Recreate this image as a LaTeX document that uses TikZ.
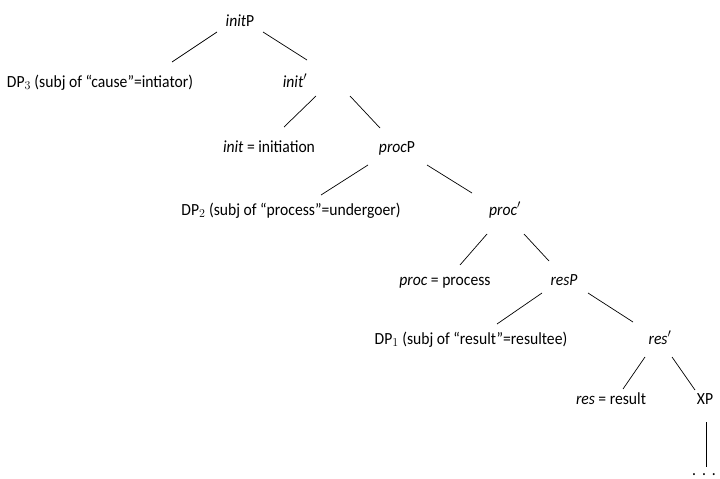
\documentclass[tikz,border=0pt]{standalone}
\usepackage{fontspec}
\setmainfont{Carlito}[FakeStretch=0.92]
\begin{document}
\begin{tikzpicture}[x=1pt,y=-1pt,
  lbl/.style={anchor=base,inner sep=0pt,font=\fontsize{17}{20}\selectfont},
  edge/.style={line width=0.7pt}]
\useasboundingbox (0,0) rectangle (720,479);
\node[lbl] (initP) at (240,27) {\textit{init}P};
\node[lbl] (DP3) at (100,87) {DP$_3$ (subj of “cause”=intiator)};
\node[lbl] (initB) at (295,87) {\textit{init$'$}};
\node[lbl] (initH) at (269,152) {\textit{init} = initiation};
\node[lbl] (procP) at (397,152) {\textit{proc}P};
\node[lbl] (DP2) at (291,215) {DP$_2$ (subj of “process”=undergoer)};
\node[lbl] (procB) at (505,215) {\textit{proc$'$}};
\node[lbl] (procH) at (445,285) {\textit{proc} = process};
\node[lbl] (resP) at (564,285) {\textit{resP}};
\node[lbl] (DP1) at (471,344) {DP$_1$ (subj of “result”=resultee)};
\node[lbl] (resB) at (660,344) {\textit{res$'$}};
\node[lbl] (resH) at (611,404) {\textit{res} = result};
\node[lbl] (XP) at (705,404) {XP};
\node[lbl] (dots) at (704,475.5) {.\hspace{6pt}.\hspace{6pt}.};
\draw[edge] ([shift={(-23,5)}]initP.base) -- ([shift={(72,-25)}]DP3.base);
\draw[edge] ([shift={(23,5)}]initP.base) -- ([shift={(12,-27)}]initB.base);
\draw[edge] ([shift={(21,9)}]initB.base) -- ([shift={(15,-25)}]initH.base);
\draw[edge] ([shift={(55,9)}]initB.base) -- ([shift={(-17,-24)}]procP.base);
\draw[edge] ([shift={(-29,13)}]procP.base) -- ([shift={(30,-20)}]DP2.base);
\draw[edge] ([shift={(30,13)}]procP.base) -- ([shift={(-33,-22)}]procB.base);
\draw[edge] ([shift={(-18,19)}]procB.base) -- ([shift={(15,-20)}]procH.base);
\draw[edge] ([shift={(19,19)}]procB.base) -- ([shift={(-15,-24)}]resP.base);
\draw[edge] ([shift={(-22,8)}]resP.base) -- ([shift={(26,-20)}]DP1.base);
\draw[edge] ([shift={(24,8)}]resP.base) -- ([shift={(-27,-22)}]resB.base);
\draw[edge] ([shift={(-15,13)}]resB.base) -- ([shift={(12,-15)}]resH.base);
\draw[edge] ([shift={(12,13)}]resB.base) -- ([shift={(-10,-14)}]XP.base);
\draw[edge] ([shift={(1,18)}]XP.base) -- ([shift={(2,-8.5)}]dots.base);
\end{tikzpicture}
\end{document}
